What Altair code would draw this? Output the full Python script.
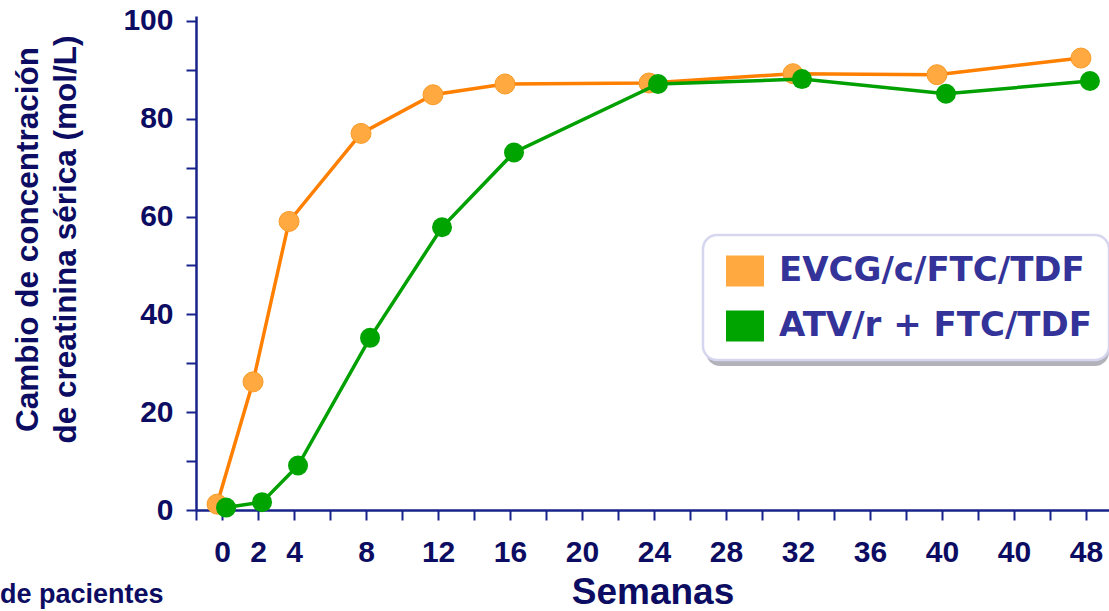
import altair as alt
import pandas as pd

# Semanas de seguimiento y cambio medio de creatinina sérica por rama
semanas = [0, 2, 4, 8, 12, 16, 24, 32, 40, 48]
evcg = [1.2, 26.2, 59.0, 77.0, 84.9, 87.1, 87.3, 89.2, 89.0, 92.4]
atv = [0.5, 1.6, 9.1, 35.2, 57.8, 73.1, 87.1, 88.1, 85.1, 87.7]

series = ["EVCG/c/FTC/TDF", "ATV/r + FTC/TDF"]
colores_punto = ["#FFA940", "#00A400"]
colores_linea = ["#FF7F00", "#00A000"]
# separación horizontal (en semanas) para que los marcadores no se tapen
desplazamiento = {"EVCG/c/FTC/TDF": -0.28, "ATV/r + FTC/TDF": 0.22}

# etiquetas del eje X (el rótulo de la semana 44 figura como "40")
x_tick_semanas = [0, 2, 4, 8, 12, 16, 20, 24, 28, 32, 36, 40, 44, 48]
x_tick_textos = ["0", "2", "4", "8", "12", "16", "20", "24", "28", "32", "36", "40", "40", "48"]
y_etiquetas = [0, 20, 40, 60, 80, 100]

filas = []
for nombre, valores in zip(series, [evcg, atv]):
    for s, v in zip(semanas, valores):
        filas.append({"semana": s, "valor": v, "serie": nombre,
                      "dx": desplazamiento[nombre]})
df = pd.DataFrame(filas)

AZUL = "#0c0c62"
EJE = "#17238a"
X_MIN, X_MAX = -1.45, 49.28

expr_x = "''"
for s, t in reversed(list(zip(x_tick_semanas, x_tick_textos))):
    expr_x = f"datum.value == {s} ? '{t}' : ({expr_x})"

eje_x = alt.Axis(
    values=[X_MIN] + list(range(0, 49, 2)),
    labelExpr=expr_x,
    title="Semanas",
    titleFontSize=37,
    titleX=456.5,
    titleY=93,
    titleAlign="center",
    titleBaseline="alphabetic",
    labelFontSize=30,
    labelBaseline="alphabetic",
    labelPadding=41,
    labelFlush=False,
    labelOverlap=False,
)
eje_y = alt.Axis(
    values=list(range(0, 101, 10)),
    labelExpr=f"indexof({y_etiquetas}, datum.value) >= 0 ? datum.label : ''",
    title=["Cambio de concentración", "de creatinina sérica (mol/L)"],
    titleFontSize=31.5,
    titleLineHeight=38,
    titleAngle=270,
    titleX=-159,
    titleY=223,
    titleAlign="center",
    titleBaseline="alphabetic",
    labelFontSize=30,
    labelPadding=13,
    labelOverlap=False,
)

x_enc = alt.X("x:Q", scale=alt.Scale(domain=[X_MIN, X_MAX], nice=False, zero=False), axis=eje_x)
y_enc = alt.Y("valor:Q", scale=alt.Scale(domain=[0, 101], nice=False), axis=eje_y)

color_enc = alt.Color(
    "serie:N",
    scale=alt.Scale(domain=series, range=colores_punto),
    legend=alt.Legend(
        title=None,
        orient="none",
        legendX=507,
        legendY=219,
        direction="vertical",
        symbolType="M-1,-0.82L1,-0.82L1,0.82L-1,0.82Z",
        symbolSize=1444,
        symbolStrokeWidth=0,
        symbolOpacity=1,
        symbolOffset=6,
        labelFont="DejaVu Sans",
        labelFontSize=34,
        labelFontWeight="bold",
        labelColor="#333399",
        labelOffset=15,
        labelLimit=600,
        rowPadding=19,
        padding=17,
        fillColor="#ffffff",
        strokeColor="#d6d6ef",
        cornerRadius=14,
    ),
)

base = alt.Chart(df).transform_calculate(x="datum.semana + datum.dx")

# sombra gris bajo el recuadro de la leyenda
sombra = alt.Chart(pd.DataFrame({"s": [0]})).mark_rect(
    color="#b2b2ba", cornerRadius=14
).encode(x=alt.value(510), x2=alt.value(913), y=alt.value(222), y2=alt.value(350))

capas = [sombra]
for nombre, c_linea in zip(series, colores_linea):
    sub = base.transform_filter(alt.datum.serie == nombre)
    capas.append(sub.mark_line(color=c_linea, strokeWidth=3.5).encode(x=x_enc, y=y_enc))
    trazo = {"stroke": "#F99B28", "strokeWidth": 1} if nombre == series[0] else {}
    capas.append(
        sub.mark_circle(size=400, opacity=1, **trazo).encode(x=x_enc, y=y_enc, color=color_enc)
    )

nota = alt.Chart(pd.DataFrame({"t": ["de pacientes"]})).mark_text(
    font="Liberation Sans", fontSize=27, fontWeight="bold", color=AZUL,
    align="left", baseline="alphabetic",
).encode(text="t:N", x=alt.value(-196), y=alt.value(587))

chart = (
    alt.layer(*capas, nota)
    .properties(
        width=913,
        height=494,
        autosize=alt.AutoSizeParams(type="none"),
        padding={"left": 196, "top": 16, "right": 0, "bottom": 101},
        background="#ffffff",
    )
    .configure_view(strokeWidth=0)
    .configure_axis(
        grid=False,
        domainColor=EJE,
        domainWidth=2.5,
        tickColor=EJE,
        tickWidth=2,
        tickSize=10,
        labelFont="Liberation Sans",
        labelFontWeight="bold",
        labelColor=AZUL,
        titleFont="Liberation Sans",
        titleFontWeight="bold",
        titleColor=AZUL,
    )
    .configure_legend(strokeWidth=2.5)
)

chart.save("out.html", embed_options={"renderer": "svg", "actions": False})
